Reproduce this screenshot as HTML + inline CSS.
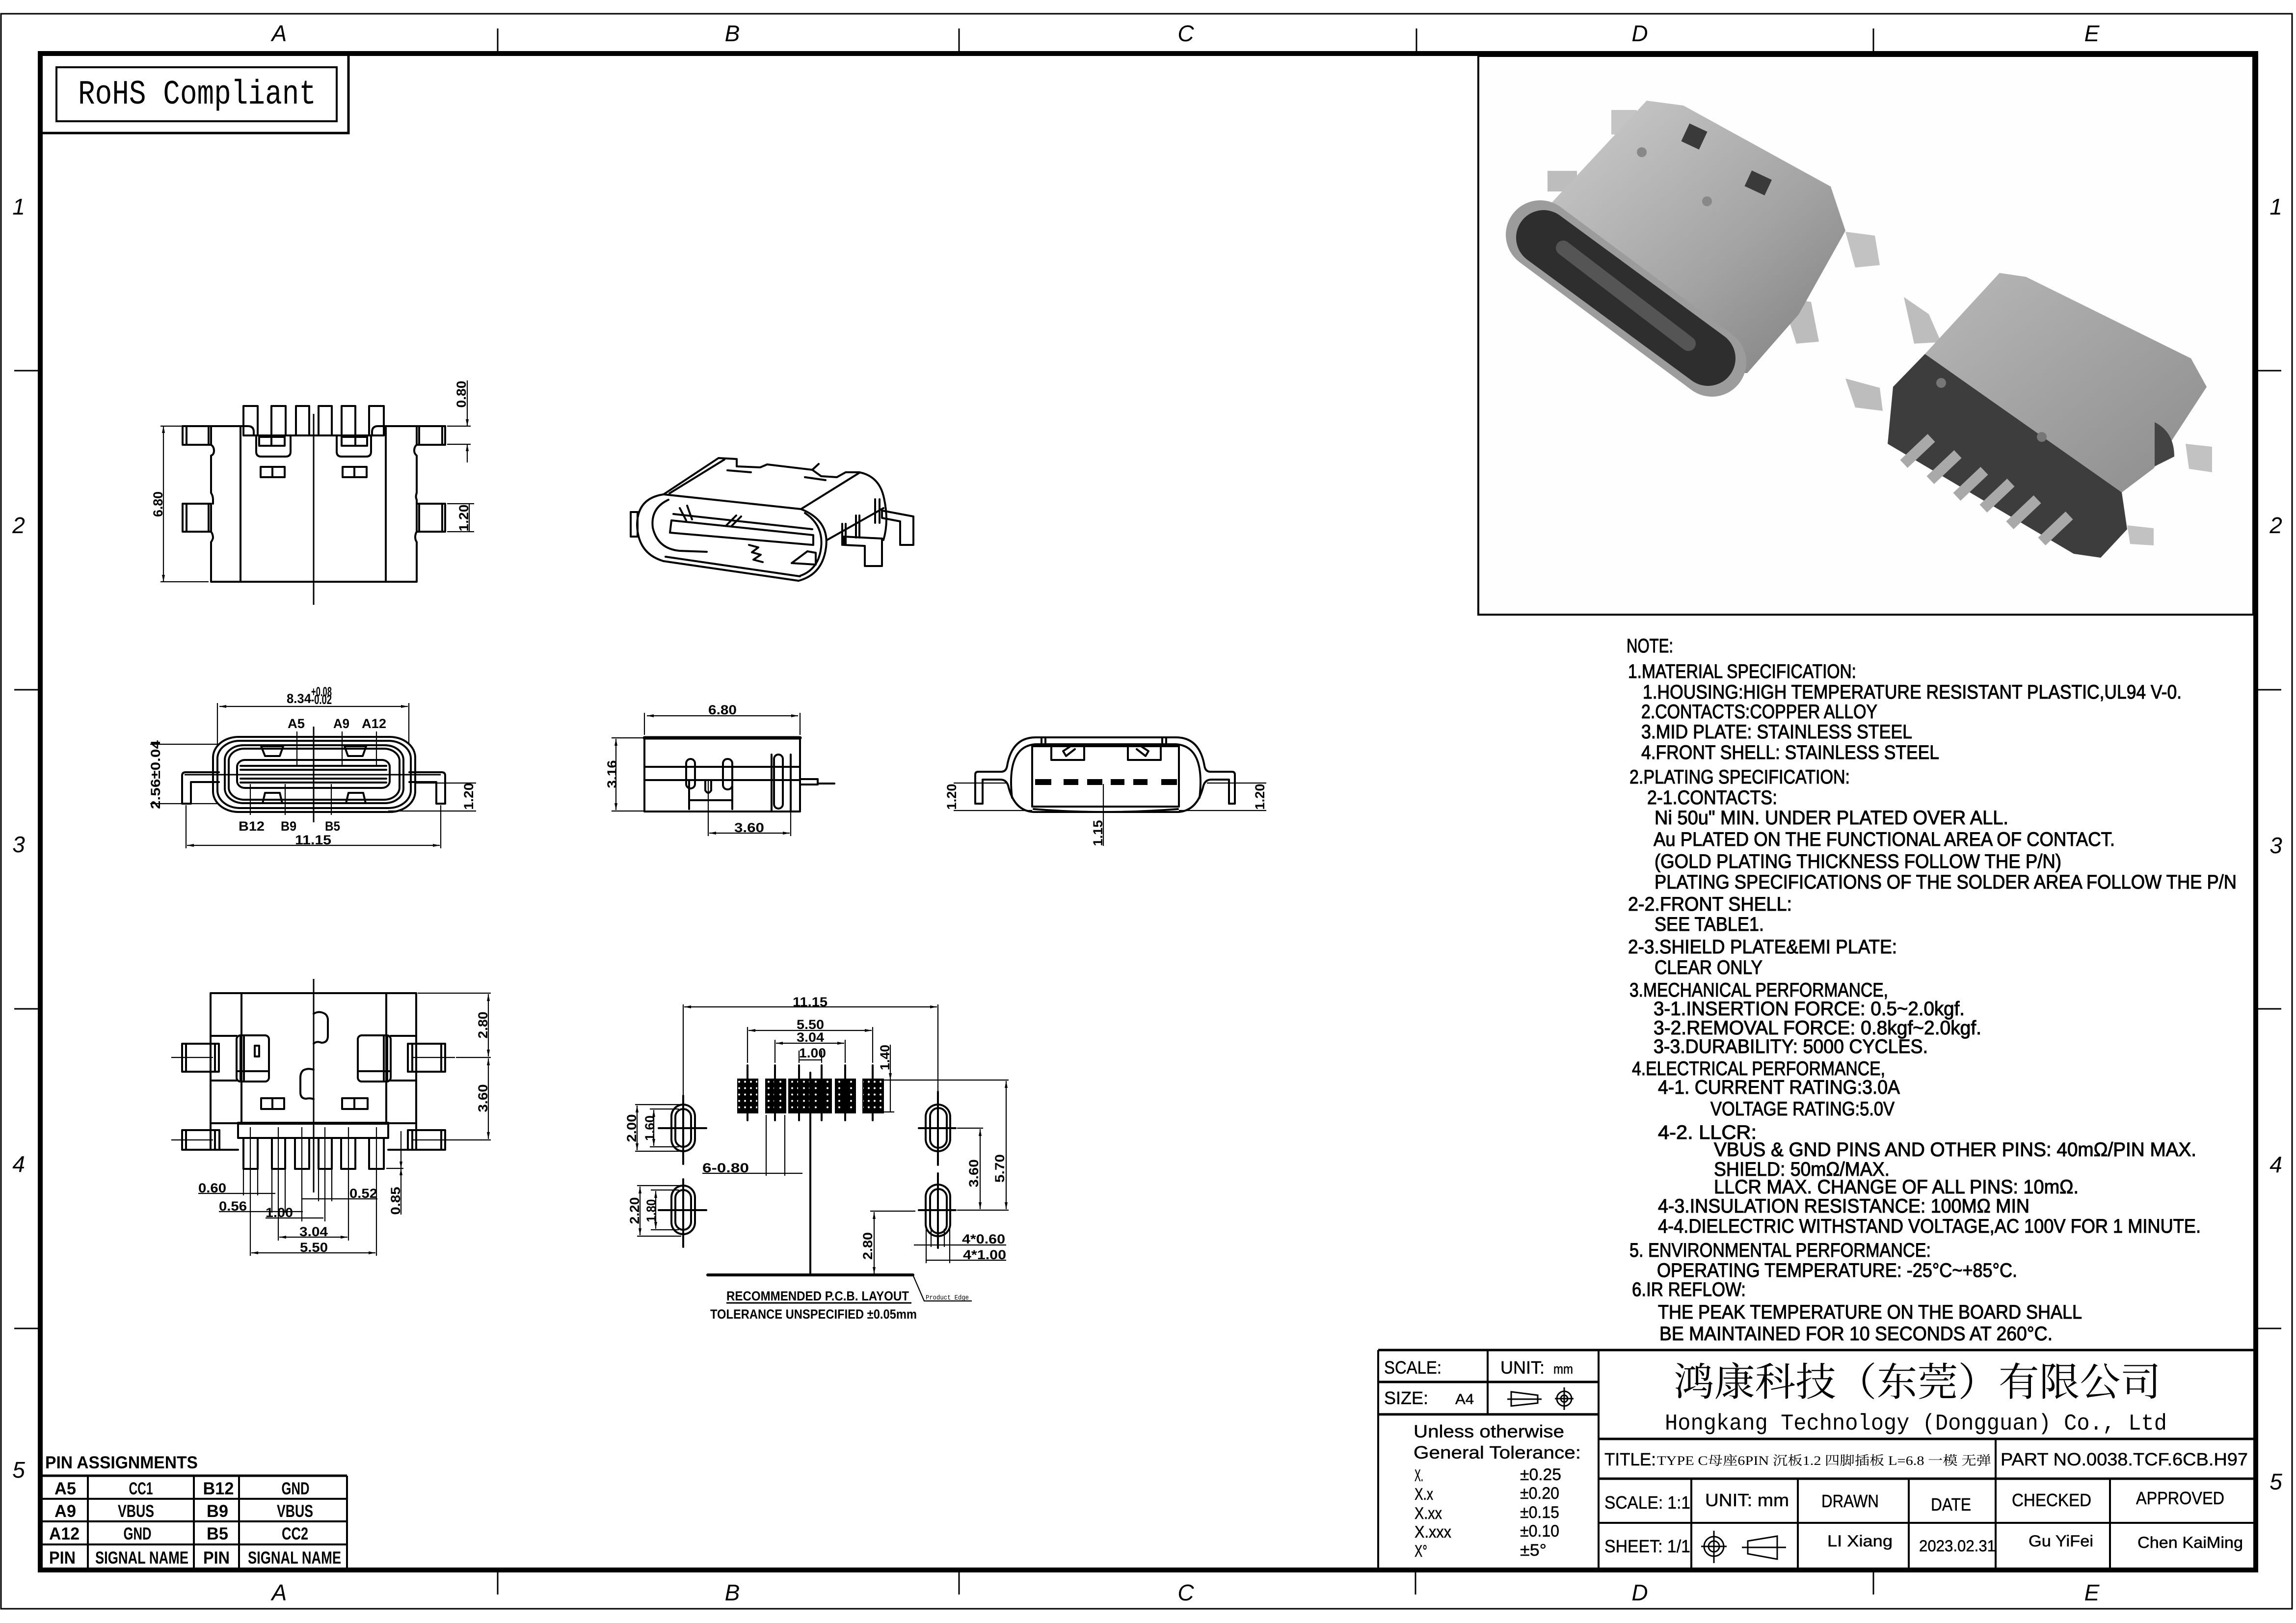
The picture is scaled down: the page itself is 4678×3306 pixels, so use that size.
<!DOCTYPE html>
<html><head><meta charset="utf-8">
<style>
html,body{margin:0;padding:0;background:#fff;}
svg{display:block;}
.l{fill:none;stroke:#000;stroke-width:4;stroke-linejoin:round;stroke-linecap:round}
.k{fill:none;stroke:#000;stroke-width:2.2}
.f{fill:none;stroke:#000;stroke-width:4}
.d{font-family:"Liberation Sans",sans-serif;font-weight:bold;font-size:27px;fill:#000}
.n{font-family:"Liberation Sans",sans-serif;font-size:40px;fill:#000;stroke:#000;stroke-width:1.1}
.tb{font-family:"Liberation Sans",sans-serif;font-size:36px;fill:#000;stroke:#000;stroke-width:0.5}
.pt{font-family:"Liberation Sans",sans-serif;font-weight:bold;font-size:35px;fill:#000}
.lt{font-family:"Liberation Sans",sans-serif;font-style:italic;font-size:46px;fill:#000}
</style></head><body>
<svg width="4678" height="3306" viewBox="0 0 4678 3306" xmlns="http://www.w3.org/2000/svg">
<defs>
<marker id="a" viewBox="0 0 14 6" refX="14" refY="3" markerWidth="14" markerHeight="6" markerUnits="userSpaceOnUse" orient="auto-start-reverse"><path d="M0,0 L14,3 L0,6 z" fill="#000"/></marker>
<pattern id="dots" width="12" height="13" patternUnits="userSpaceOnUse"><rect width="12" height="13" fill="#000"/><circle cx="6" cy="6.5" r="2" fill="#fff"/></pattern>
<linearGradient id="m1" x1="0" y1="0" x2="1" y2="1"><stop offset="0" stop-color="#cfcfcf"/><stop offset="0.6" stop-color="#a3a3a3"/><stop offset="1" stop-color="#7e7e7e"/></linearGradient>
<linearGradient id="m2" x1="0" y1="0" x2="1" y2="1"><stop offset="0" stop-color="#b8b8b8"/><stop offset="1" stop-color="#8c8c8c"/></linearGradient>
</defs>
<rect width="4678" height="3306" fill="#fff"/>

<!-- frames -->
<rect x="2" y="28" width="4668" height="3249" fill="none" stroke="#000" stroke-width="3"/>
<rect x="82" y="109" width="4514" height="3089" fill="none" stroke="#000" stroke-width="10"/>
<g stroke="#000" stroke-width="3">
<line x1="1014" y1="58" x2="1014" y2="104"/><line x1="1954" y1="58" x2="1954" y2="104"/><line x1="2886" y1="58" x2="2886" y2="104"/><line x1="3817" y1="58" x2="3817" y2="104"/>
<line x1="1014" y1="3203" x2="1014" y2="3248"/><line x1="1954" y1="3203" x2="1954" y2="3248"/><line x1="2884" y1="3203" x2="2884" y2="3248"/><line x1="3817" y1="3203" x2="3817" y2="3248"/>
<line x1="29" y1="755" x2="77" y2="755"/><line x1="29" y1="1405" x2="77" y2="1405"/><line x1="29" y1="2055" x2="77" y2="2055"/><line x1="29" y1="2706" x2="77" y2="2706"/>
<line x1="4601" y1="755" x2="4648" y2="755"/><line x1="4601" y1="1405" x2="4648" y2="1405"/><line x1="4601" y1="2055" x2="4648" y2="2055"/><line x1="4601" y1="2706" x2="4648" y2="2706"/>
</g>
<g class="lt" text-anchor="middle">
<text x="569" y="84">A</text><text x="1492" y="84">B</text><text x="2416" y="84">C</text><text x="3341" y="84">D</text><text x="4262" y="84">E</text>
<text x="569" y="3260">A</text><text x="1492" y="3260">B</text><text x="2416" y="3260">C</text><text x="3341" y="3260">D</text><text x="4262" y="3260">E</text>
<text x="38" y="437">1</text><text x="38" y="1086">2</text><text x="38" y="1736">3</text><text x="38" y="2387">4</text><text x="38" y="3010">5</text>
<text x="4637" y="437">1</text><text x="4637" y="1086">2</text><text x="4637" y="1738">3</text><text x="4637" y="2388">4</text><text x="4637" y="3034">5</text>
</g>

<!-- RoHS -->
<path d="M82,271 H710 V109" fill="none" stroke="#000" stroke-width="5"/>
<rect x="115" y="137" width="571" height="110" fill="none" stroke="#000" stroke-width="4"/>
<text x="159" y="211" font-family="'Liberation Mono',monospace" font-size="70" textLength="485" lengthAdjust="spacingAndGlyphs">RoHS Compliant</text>

<!-- ===== Drawing 1: top view ===== -->
<g class="l">
<path d="M372,868 H505 Q517,868 517,880 V887 H758 V880 Q758,868 770,868 H907"/>
<rect x="496" y="827" width="29" height="60"/><rect x="553" y="827" width="29" height="60"/><rect x="603" y="827" width="27" height="60"/>
<rect x="649" y="827" width="27" height="60"/><rect x="696" y="827" width="28" height="60"/><rect x="752" y="827" width="30" height="60"/>
<rect x="372" y="868" width="58" height="38"/><line x1="380" y1="868" x2="380" y2="906"/><line x1="425" y1="868" x2="425" y2="906"/>
<rect x="372" y="1026" width="58" height="57"/><line x1="380" y1="1026" x2="380" y2="1083"/><line x1="425" y1="1026" x2="425" y2="1083"/>
<rect x="849" y="868" width="58" height="38"/><line x1="901" y1="868" x2="901" y2="906"/><line x1="854" y1="868" x2="854" y2="906"/>
<rect x="849" y="1026" width="58" height="57"/><line x1="901" y1="1026" x2="901" y2="1083"/><line x1="854" y1="1026" x2="854" y2="1083"/>
<path d="M430,906 Q436,910 436,918 Q436,926 430,928 V1004 Q434,1010 434,1018 V1026 M430,1083 Q434,1088 434,1096 Q432,1102 430,1104 V1185 H849 V1104 Q846,1100 846,1094 Q846,1088 849,1083 M849,1026 V1018 Q846,1012 849,1004 V928 Q844,924 844,918 Q844,910 849,906"/>
<line x1="490" y1="868" x2="490" y2="1185"/><line x1="786" y1="868" x2="786" y2="1185"/>
<path d="M522,887 V920 Q522,930 532,930 H582 Q592,930 592,920 V887"/>
<rect x="528" y="890" width="52" height="18"/><line x1="553" y1="890" x2="553" y2="908"/>
<path d="M686,887 V920 Q686,930 696,930 H746 Q756,930 756,920 V887"/>
<rect x="696" y="890" width="52" height="18"/><line x1="724" y1="890" x2="724" y2="908"/>
<rect x="531" y="951" width="49" height="21"/><line x1="555" y1="951" x2="555" y2="972"/>
<rect x="698" y="951" width="49" height="21"/><line x1="722" y1="951" x2="722" y2="972"/>
</g>
<line x1="639" y1="843" x2="639" y2="1232" stroke="#000" stroke-width="3"/>
<g class="k">
<line x1="327" y1="868" x2="370" y2="868"/><line x1="327" y1="1185" x2="425" y2="1185"/>
<line x1="333" y1="868" x2="333" y2="1185" marker-start="url(#a)" marker-end="url(#a)"/>
<line x1="911" y1="868" x2="959" y2="868"/><line x1="911" y1="905" x2="959" y2="905"/>
<line x1="952" y1="775" x2="952" y2="868" marker-end="url(#a)"/><line x1="952" y1="942" x2="952" y2="905" marker-end="url(#a)"/>
<line x1="911" y1="1026" x2="966" y2="1026"/><line x1="911" y1="1083" x2="966" y2="1083"/>
<line x1="956" y1="1026" x2="956" y2="1083"/>
</g>
<text class="d" transform="translate(331,1027) rotate(-90)" text-anchor="middle" textLength="52" lengthAdjust="spacingAndGlyphs">6.80</text>
<text class="d" transform="translate(949,803) rotate(-90)" text-anchor="middle" textLength="55" lengthAdjust="spacingAndGlyphs">0.80</text>
<text class="d" transform="translate(954,1055) rotate(-90)" text-anchor="middle" textLength="55" lengthAdjust="spacingAndGlyphs">1.20</text>

<!-- ===== Drawing 2: isometric ===== -->
<g class="l">
<path d="M1352,1007 L1464,933 L1501,935 L1501,950 L1549,952 L1563,946 L1655,957 L1673,970 L1705,972 L1723,962 L1751,962 Q1790,970 1800,1010 Q1812,1060 1800,1100"/>
<path d="M1364,1005 L1476,936"/>
<path d="M1352,1007 L1632,1037 L1751,963"/>
<path d="M1632,1037 Q1690,1060 1683,1115 Q1676,1170 1627,1183"/>
<path d="M1640,1045 Q1678,1070 1673,1115 Q1668,1160 1630,1173"/>
<path d="M1352,1143 L1627,1183"/><path d="M1356,1134 L1630,1174"/>
<path d="M1352,1007 Q1298,1015 1298,1070 Q1300,1128 1352,1143"/>
<path d="M1362,1018 Q1325,1035 1330,1075 Q1340,1118 1385,1122 L1440,1124"/>
<path d="M1368,1060 L1657,1090 L1657,1110 L1365,1085 Z"/>
<path d="M1372,1047 L1655,1078"/>
<path d="M1685,1100 L1800,1035"/>
<path d="M1797,1040 L1861,1052 L1861,1110 L1834,1110 L1834,1062 L1797,1055 Z"/>
<path d="M1783,1017 V1065 M1792,1017 V1065"/>
<path d="M1719,1093 L1797,1097 L1797,1153 L1762,1153 L1762,1112 L1719,1110 Z"/>
<path d="M1744,1050 V1095 M1751,1050 V1095 M1716,1067 V1110 M1723,1067 V1110"/>
<rect x="1285" y="1043" width="14" height="50"/>
<path d="M1526,1110 L1545,1115 L1532,1125 L1550,1130 L1535,1140 L1554,1145"/>
<path d="M1613,1147 L1645,1123 L1662,1126 L1662,1150 Z"/>
<path d="M1482,958 L1530,962 M1640,972 L1682,978 M1655,957 L1668,945"/>
<path d="M1385,1035 L1398,1060 M1400,1030 L1410,1058 M1480,1070 L1500,1050 M1490,1072 L1510,1052"/>
</g>

<!-- ===== Drawing 3: front view ===== -->
<g class="l">
<rect x="434" y="1501" width="412" height="153" rx="52" ry="42"/>
<rect x="443" y="1509" width="394" height="137" rx="46" ry="36"/>
<rect x="458" y="1518" width="364" height="118" rx="38" ry="30"/>
<rect x="466" y="1525" width="348" height="104" rx="32" ry="25"/>
<rect x="483" y="1548" width="311" height="57" rx="16" ry="14"/>
<path d="M490,1560 H787 M490,1568 H787 M490,1586 H787 M490,1594 H787"/>
<path d="M446,1573 H378 Q371,1573 371,1580 V1637 H389 V1593 H446"/>
<path d="M834,1573 H900 Q907,1573 907,1580 V1637 H889 V1593 H834"/>
<path d="M532,1520 L577,1520 L570,1540 L540,1540 Z"/><path d="M702,1520 L746,1520 L739,1540 L709,1540 Z"/>
<path d="M535,1636 L540,1615 L570,1615 L575,1636"/><path d="M705,1636 L710,1615 L740,1615 L745,1636"/>
</g>
<line x1="376" y1="1578" x2="898" y2="1578" stroke="#000" stroke-width="3"/>
<line x1="639" y1="1480" x2="639" y2="1675" stroke="#000" stroke-width="3"/>
<g class="k">
<line x1="605" y1="1490" x2="605" y2="1560"/><line x1="697" y1="1490" x2="697" y2="1560"/><line x1="767" y1="1490" x2="767" y2="1560"/>
<line x1="510" y1="1597" x2="510" y2="1660"/><line x1="581" y1="1597" x2="581" y2="1660"/><line x1="675" y1="1597" x2="675" y2="1660"/>
<line x1="443" y1="1432" x2="443" y2="1517"/><line x1="833" y1="1432" x2="833" y2="1517"/>
<line x1="447" y1="1439" x2="831" y2="1439" marker-start="url(#a)" marker-end="url(#a)"/>
<line x1="306" y1="1516" x2="447" y2="1516"/><line x1="306" y1="1637" x2="443" y2="1637"/>
<line x1="846" y1="1595" x2="970" y2="1595"/><line x1="791" y1="1652" x2="970" y2="1652"/>
<line x1="379" y1="1640" x2="379" y2="1728"/><line x1="898" y1="1640" x2="898" y2="1728"/>
<line x1="381" y1="1722" x2="896" y2="1722" marker-start="url(#a)" marker-end="url(#a)"/>
</g>
<text class="d" x="584" y="1432" textLength="50" lengthAdjust="spacingAndGlyphs">8.34</text>
<text class="d" x="634" y="1418" font-size="17" textLength="42" lengthAdjust="spacingAndGlyphs">+0.08</text>
<text class="d" x="634" y="1434" font-size="17" textLength="42" lengthAdjust="spacingAndGlyphs">-0.02</text>
<text class="d" x="586" y="1483" textLength="35" lengthAdjust="spacingAndGlyphs">A5</text>
<text class="d" x="679" y="1483" textLength="33" lengthAdjust="spacingAndGlyphs">A9</text>
<text class="d" x="737" y="1483" textLength="50" lengthAdjust="spacingAndGlyphs">A12</text>
<text class="d" x="486" y="1692" textLength="53" lengthAdjust="spacingAndGlyphs">B12</text>
<text class="d" x="572" y="1692" textLength="32" lengthAdjust="spacingAndGlyphs">B9</text>
<text class="d" x="662" y="1692" textLength="31" lengthAdjust="spacingAndGlyphs">B5</text>
<text class="d" x="601" y="1720" textLength="74" lengthAdjust="spacingAndGlyphs">11.15</text>
<text class="d" transform="translate(326,1578) rotate(-90)" text-anchor="middle" textLength="140" lengthAdjust="spacingAndGlyphs">2.56±0.04</text>
<text class="d" transform="translate(964,1622) rotate(-90)" text-anchor="middle" textLength="55" lengthAdjust="spacingAndGlyphs">1.20</text>

<!-- ===== Drawing 4: side view ===== -->
<g class="l">
<rect x="1313" y="1503" width="317" height="150"/>
<line x1="1313" y1="1503" x2="1630" y2="1503" stroke-width="7"/>
<path d="M1313,1562 H1630 M1313,1589 H1630"/>
<rect x="1398" y="1546" width="18" height="60" rx="9"/>
<rect x="1473" y="1546" width="19" height="62" rx="9"/>
<rect x="1577" y="1537" width="18" height="110" rx="9"/>
<path d="M1404,1590 V1648 M1492,1590 V1648 M1404,1630 H1492"/>
<path d="M1437,1590 V1610 Q1443,1620 1449,1610 V1590"/>
<path d="M1572,1537 V1653 M1611,1537 V1653"/>
<path d="M1630,1587 H1666 V1598 H1630 M1666,1596 H1700"/>
</g>
<line x1="1443" y1="1590" x2="1443" y2="1703" class="k"/>
<g class="k">
<line x1="1313" y1="1452" x2="1313" y2="1497"/><line x1="1630" y1="1452" x2="1630" y2="1497"/>
<line x1="1318" y1="1458" x2="1626" y2="1458" marker-start="url(#a)" marker-end="url(#a)"/>
<line x1="1246" y1="1503" x2="1313" y2="1503"/><line x1="1246" y1="1652" x2="1313" y2="1652"/>
<line x1="1255" y1="1505" x2="1255" y2="1650" marker-start="url(#a)" marker-end="url(#a)"/>
<line x1="1611" y1="1647" x2="1611" y2="1703"/>
<line x1="1445" y1="1697" x2="1609" y2="1697" marker-start="url(#a)" marker-end="url(#a)"/>
</g>
<text class="d" x="1443" y="1455" textLength="58" lengthAdjust="spacingAndGlyphs">6.80</text>
<text class="d" transform="translate(1256,1577) rotate(-90)" text-anchor="middle" textLength="57" lengthAdjust="spacingAndGlyphs">3.16</text>
<text class="d" x="1496" y="1695" textLength="61" lengthAdjust="spacingAndGlyphs">3.60</text>

<!-- ===== Drawing 5: rear view ===== -->
<g class="l">
<path d="M1987,1637 V1578 Q1987,1572 1993,1572 H2040 Q2050,1572 2052,1560 Q2062,1502 2110,1502 H2396 Q2444,1502 2454,1560 Q2456,1572 2466,1572 H2510 Q2516,1572 2516,1578 V1637 H2504 V1588 H2468 Q2456,1588 2452,1600 Q2440,1652 2400,1654 H2106 Q2066,1652 2054,1600 Q2050,1588 2038,1588 H2002 V1637 Z"/>
<path d="M2062,1625 Q2050,1520 2110,1516 H2396 Q2456,1520 2444,1625"/>
<rect x="2103" y="1520" width="299" height="123"/>
<path d="M2106,1648 Q2250,1660 2400,1648"/>
<rect x="2142" y="1517" width="67" height="31"/><rect x="2298" y="1517" width="67" height="31"/>
<path d="M2186,1517 L2166,1530 L2172,1540 L2190,1526"/><path d="M2320,1517 L2340,1530 L2334,1540 L2316,1526"/>
<path d="M2122,1505 V1516 M2130,1505 V1516 M2368,1505 V1516 M2376,1505 V1516"/>
</g>
<g fill="#000">
<rect x="2109" y="1587" width="33" height="12"/><rect x="2167" y="1587" width="30" height="12"/><rect x="2215" y="1587" width="31" height="12"/>
<rect x="2263" y="1587" width="28" height="12"/><rect x="2309" y="1587" width="29" height="12"/><rect x="2366" y="1587" width="32" height="12"/>
</g>
<g class="k">
<line x1="1943" y1="1595" x2="2050" y2="1595"/><line x1="1943" y1="1651" x2="2103" y2="1651"/>
<line x1="2459" y1="1595" x2="2580" y2="1595"/><line x1="2402" y1="1651" x2="2580" y2="1651"/>
<line x1="2248" y1="1597" x2="2248" y2="1723"/>
</g>
<text class="d" transform="translate(1948,1623) rotate(-90)" text-anchor="middle" textLength="53" lengthAdjust="spacingAndGlyphs">1.20</text>
<text class="d" transform="translate(2576,1623) rotate(-90)" text-anchor="middle" textLength="53" lengthAdjust="spacingAndGlyphs">1.20</text>
<text class="d" transform="translate(2246,1697) rotate(-90)" text-anchor="middle" textLength="53" lengthAdjust="spacingAndGlyphs">1.15</text>

<!-- ===== Drawing 6: bottom view ===== -->
<g class="l">
<rect x="429" y="2023" width="419" height="265"/>
<line x1="492" y1="2023" x2="492" y2="2288"/><line x1="787" y1="2023" x2="787" y2="2288"/>
<path d="M429,2110 H482 M429,2201 H482 M796,2110 H848 M796,2201 H848"/>
<rect x="371" y="2126" width="75" height="57"/><path d="M379,2126 V2183 M438,2126 V2183"/>
<rect x="831" y="2126" width="76" height="57"/><path d="M899,2126 V2183 M840,2126 V2183"/>
<rect x="371" y="2302" width="76" height="40"/><path d="M379,2302 V2342 M438,2302 V2342"/>
<rect x="831" y="2302" width="76" height="40"/><path d="M899,2302 V2342 M840,2302 V2342"/>
<path d="M429,2288 V2342 H485 M848,2288 V2342 H791"/>
<rect x="482" y="2109" width="66" height="94" rx="8"/>
<rect x="729" y="2109" width="67" height="94" rx="8"/>
<path d="M490,2112 V2200 M497,2112 V2200 M482,2182 H548 M519,2130 H528 V2152 H519 Z"/>
<path d="M789,2112 V2200 M782,2112 V2200 M729,2182 H796"/>
<path d="M639,2065 Q650,2058 662,2065 Q669,2070 668,2082 V2110 Q668,2124 655,2124 Q645,2120 639,2126"/>
<path d="M639,2179 Q628,2175 618,2180 Q612,2185 612,2195 V2225 Q612,2238 624,2238 Q632,2236 639,2239"/>
<rect x="532" y="2237" width="47" height="22"/><line x1="555" y1="2237" x2="555" y2="2259"/>
<rect x="697" y="2237" width="52" height="22"/><line x1="722" y1="2237" x2="722" y2="2259"/>
<rect x="485" y="2288" width="306" height="30"/>
<line x1="485" y1="2288" x2="791" y2="2288" stroke-width="6"/>
<rect x="496" y="2318" width="29" height="63"/><rect x="554" y="2318" width="27" height="63"/><rect x="601" y="2318" width="29" height="63"/>
<rect x="649" y="2318" width="27" height="63"/><rect x="695" y="2318" width="29" height="63"/><rect x="752" y="2318" width="30" height="63"/>
</g>
<line x1="639" y1="1994" x2="639" y2="2429" stroke="#000" stroke-width="3"/>
<g class="k">
<path d="M349,2154 H434 M842,2154 H927 M349,2322 H434 M842,2322 H927"/>
<path d="M510,2296 V2558 M567,2296 V2527 M615,2296 V2488 M662,2296 V2488 M710,2296 V2527 M767,2296 V2558"/>
<path d="M496,2381 V2435 M525,2381 V2435 M554,2381 V2470 M581,2381 V2470 M649,2381 V2447 M676,2381 V2447"/>
<line x1="851" y1="2023" x2="1000" y2="2023"/><line x1="929" y1="2154" x2="1000" y2="2154"/><line x1="927" y1="2322" x2="1000" y2="2322"/>
<line x1="995" y1="2025" x2="995" y2="2152" marker-start="url(#a)" marker-end="url(#a)"/>
<line x1="995" y1="2156" x2="995" y2="2320" marker-start="url(#a)" marker-end="url(#a)"/>
<line x1="787" y1="2380" x2="822" y2="2380"/>
<line x1="817" y1="2304" x2="817" y2="2380" marker-end="url(#a)"/><line x1="817" y1="2474" x2="817" y2="2380" marker-end="url(#a)"/>
<line x1="404" y1="2431" x2="561" y2="2431"/>
<line x1="446" y1="2468" x2="617" y2="2468"/>
<line x1="541" y1="2481" x2="659" y2="2481"/>
<line x1="615" y1="2442" x2="769" y2="2442"/>
<line x1="569" y1="2520" x2="708" y2="2520" marker-start="url(#a)" marker-end="url(#a)"/>
<line x1="512" y1="2552" x2="765" y2="2552" marker-start="url(#a)" marker-end="url(#a)"/>
</g>
<text class="d" transform="translate(993,2088) rotate(-90)" text-anchor="middle" textLength="55" lengthAdjust="spacingAndGlyphs">2.80</text>
<text class="d" transform="translate(993,2237) rotate(-90)" text-anchor="middle" textLength="57" lengthAdjust="spacingAndGlyphs">3.60</text>
<text class="d" transform="translate(815,2446) rotate(-90)" text-anchor="middle" textLength="57" lengthAdjust="spacingAndGlyphs">0.85</text>
<text class="d" x="404" y="2429" textLength="57" lengthAdjust="spacingAndGlyphs">0.60</text>
<text class="d" x="446" y="2466" textLength="57" lengthAdjust="spacingAndGlyphs">0.56</text>
<text class="d" x="541" y="2479" textLength="56" lengthAdjust="spacingAndGlyphs">1.00</text>
<text class="d" x="712" y="2440" textLength="57" lengthAdjust="spacingAndGlyphs">0.52</text>
<text class="d" x="610" y="2518" textLength="58" lengthAdjust="spacingAndGlyphs">3.04</text>
<text class="d" x="611" y="2550" textLength="57" lengthAdjust="spacingAndGlyphs">5.50</text>

<!-- ===== Drawing 7: PCB layout ===== -->
<g fill="url(#dots)" stroke="#000" stroke-width="2">
<rect x="1503" y="2198" width="41" height="69"/><rect x="1560" y="2198" width="41" height="69"/><rect x="1607" y="2198" width="44" height="69"/>
<rect x="1654" y="2198" width="40" height="69"/><rect x="1702" y="2198" width="41" height="69"/><rect x="1758" y="2198" width="42" height="69"/>
</g>
<g class="l">
<rect x="1368" y="2250" width="48" height="95" rx="24"/><rect x="1376" y="2259" width="32" height="77" rx="16"/>
<rect x="1368" y="2415" width="48" height="99" rx="24"/><rect x="1376" y="2424" width="32" height="81" rx="16"/>
<rect x="1886" y="2250" width="50" height="95" rx="25"/><rect x="1895" y="2257" width="34" height="81" rx="17"/>
<rect x="1886" y="2413" width="50" height="105" rx="25"/><rect x="1895" y="2422" width="34" height="90" rx="17"/>
<path d="M1342,2298 H1439 M1392,2232 V2371 M1342,2465 H1439 M1392,2402 V2540"/>
<path d="M1872,2298 H1947 M1911,2224 V2373 M1872,2465 H1947 M1911,2390 V2542"/>
<path d="M1523,2170 V2282 M1579,2170 V2282 M1628,2170 V2282 M1674,2170 V2282 M1722,2170 V2282 M1778,2170 V2282"/>
<line x1="1651" y1="2185" x2="1651" y2="2597"/>
<line x1="1442" y1="2597" x2="1860" y2="2597" stroke-width="6"/>
</g>
<g class="k">
<line x1="1392" y1="2046" x2="1392" y2="2232"/><line x1="1911" y1="2046" x2="1911" y2="2224"/>
<line x1="1394" y1="2051" x2="1909" y2="2051" marker-start="url(#a)" marker-end="url(#a)"/>
<line x1="1523" y1="2092" x2="1523" y2="2165"/><line x1="1778" y1="2092" x2="1778" y2="2165"/>
<line x1="1525" y1="2099" x2="1776" y2="2099" marker-start="url(#a)" marker-end="url(#a)"/>
<line x1="1579" y1="2118" x2="1579" y2="2165"/><line x1="1722" y1="2118" x2="1722" y2="2165"/>
<line x1="1581" y1="2125" x2="1720" y2="2125" marker-start="url(#a)" marker-end="url(#a)"/>
<line x1="1628" y1="2140" x2="1628" y2="2165"/><line x1="1674" y1="2140" x2="1674" y2="2165"/>
<line x1="1628" y1="2159" x2="1674" y2="2159"/>
<line x1="1801" y1="2200" x2="2055" y2="2200"/><line x1="1801" y1="2265" x2="1822" y2="2265"/>
<line x1="1814" y1="2128" x2="1814" y2="2200" marker-end="url(#a)"/><line x1="1814" y1="2265" x2="1814" y2="2200"/>
<line x1="1294" y1="2250" x2="1388" y2="2250"/><line x1="1294" y1="2345" x2="1388" y2="2345"/>
<line x1="1298" y1="2252" x2="1298" y2="2343" marker-start="url(#a)" marker-end="url(#a)"/>
<line x1="1324" y1="2259" x2="1383" y2="2259"/><line x1="1324" y1="2336" x2="1383" y2="2336"/>
<line x1="1332" y1="2261" x2="1332" y2="2334" marker-start="url(#a)" marker-end="url(#a)"/>
<line x1="1298" y1="2415" x2="1388" y2="2415"/><line x1="1298" y1="2518" x2="1388" y2="2518"/>
<line x1="1304" y1="2417" x2="1304" y2="2516" marker-start="url(#a)" marker-end="url(#a)"/>
<line x1="1326" y1="2424" x2="1383" y2="2424"/><line x1="1326" y1="2505" x2="1383" y2="2505"/>
<line x1="1336" y1="2426" x2="1336" y2="2503" marker-start="url(#a)" marker-end="url(#a)"/>
<line x1="1950" y1="2298" x2="2003" y2="2298"/><line x1="1950" y1="2465" x2="2055" y2="2465"/>
<line x1="1997" y1="2300" x2="1997" y2="2463" marker-start="url(#a)" marker-end="url(#a)"/>
<line x1="2050" y1="2202" x2="2050" y2="2463" marker-start="url(#a)" marker-end="url(#a)"/>
<line x1="1773" y1="2467" x2="1865" y2="2467"/>
<line x1="1781" y1="2469" x2="1781" y2="2595" marker-start="url(#a)" marker-end="url(#a)"/>
<line x1="1561" y1="2271" x2="1561" y2="2395"/><line x1="1599" y1="2271" x2="1599" y2="2395"/>
<line x1="1431" y1="2390" x2="1635" y2="2390"/>
<path d="M1887,2503 V2573 M1897,2503 V2540 M1924,2503 V2540 M1935,2503 V2573"/>
<line x1="1862" y1="2536" x2="2050" y2="2536"/>
<line x1="1887" y1="2567" x2="2050" y2="2567"/>
<path d="M1860,2597 L1883,2650 H1980"/>
<line x1="1480" y1="2654" x2="1857" y2="2654" stroke-width="3"/>
</g>
<text class="d" x="1615" y="2050" textLength="71" lengthAdjust="spacingAndGlyphs">11.15</text>
<text class="d" x="1623" y="2096" textLength="56" lengthAdjust="spacingAndGlyphs">5.50</text>
<text class="d" x="1623" y="2122" textLength="56" lengthAdjust="spacingAndGlyphs">3.04</text>
<text class="d" x="1628" y="2154" textLength="55" lengthAdjust="spacingAndGlyphs">1.00</text>
<text class="d" transform="translate(1812,2154) rotate(-90)" text-anchor="middle" textLength="52" lengthAdjust="spacingAndGlyphs">1.40</text>
<text class="d" transform="translate(1296,2298) rotate(-90)" text-anchor="middle" textLength="57" lengthAdjust="spacingAndGlyphs">2.00</text>
<text class="d" transform="translate(1333,2298) rotate(-90)" text-anchor="middle" textLength="52" lengthAdjust="spacingAndGlyphs">1.60</text>
<text class="d" transform="translate(1302,2466) rotate(-90)" text-anchor="middle" textLength="55" lengthAdjust="spacingAndGlyphs">2.20</text>
<text class="d" transform="translate(1336,2466) rotate(-90)" text-anchor="middle" textLength="47" lengthAdjust="spacingAndGlyphs">1.80</text>
<text class="d" transform="translate(1993,2390) rotate(-90)" text-anchor="middle" textLength="57" lengthAdjust="spacingAndGlyphs">3.60</text>
<text class="d" transform="translate(2046,2380) rotate(-90)" text-anchor="middle" textLength="58" lengthAdjust="spacingAndGlyphs">5.70</text>
<text class="d" transform="translate(1777,2538) rotate(-90)" text-anchor="middle" textLength="56" lengthAdjust="spacingAndGlyphs">2.80</text>
<text class="d" x="1431" y="2388" textLength="95" lengthAdjust="spacingAndGlyphs">6-0.80</text>
<text class="d" x="1960" y="2533" textLength="88" lengthAdjust="spacingAndGlyphs">4*0.60</text>
<text class="d" x="1962" y="2565" textLength="88" lengthAdjust="spacingAndGlyphs">4*1.00</text>
<text x="1886" y="2647" font-family="'Liberation Mono',monospace" font-size="14" textLength="88" lengthAdjust="spacingAndGlyphs">Product Edge</text>
<text class="d" x="1480" y="2649" textLength="372" lengthAdjust="spacingAndGlyphs">RECOMMENDED  P.C.B.  LAYOUT</text>
<text class="d" x="1447" y="2686" textLength="421" lengthAdjust="spacingAndGlyphs">TOLERANCE UNSPECIFIED ±0.05mm</text>

<!-- ===== Photo ===== -->
<rect x="3012" y="114" width="1579" height="1138" fill="#fefefe" stroke="#000" stroke-width="4"/>
<g>
<rect x="3283" y="224" width="52" height="50" fill="#c4c4c4"/>
<rect x="3153" y="348" width="60" height="42" fill="#bdbdbd"/>
<path d="M3760,472 L3820,480 L3830,540 L3780,545 Z" fill="#c2c2c2"/>
<path d="M3630,605 L3690,615 L3706,696 L3660,700 Z" fill="#bcbcbc"/>
<path d="M3125,452 L3355,205 L3430,215 L3730,380 L3760,470 L3665,640 L3560,760 L3500,760 Z" fill="url(#m1)"/>
<path d="M3138,478 L3488,738" stroke="#9c9c9c" stroke-width="140" stroke-linecap="round"/>
<path d="M3145,484 L3480,730" stroke="#2e2e2e" stroke-width="112" stroke-linecap="round"/>
<path d="M3185,505 L3440,700" stroke="#555" stroke-width="30" stroke-linecap="round"/>
<rect x="3432" y="258" width="40" height="40" fill="#3a3a3a" transform="rotate(25 3452 278)"/>
<rect x="3560" y="355" width="45" height="35" fill="#3a3a3a" transform="rotate(25 3582 372)"/>
<circle cx="3345" cy="310" r="10" fill="#888"/><circle cx="3478" cy="410" r="10" fill="#888"/>
<path d="M3760,771 L3830,790 L3836,837 L3780,830 Z" fill="#bdbdbd"/>
<path d="M3879,605 L3930,640 L3955,697 L3900,700 Z" fill="#bdbdbd"/>
<path d="M4453,904 L4507,910 L4507,962 L4460,955 Z" fill="#c2c2c2"/>
<path d="M4334,1070 L4388,1076 L4388,1111 L4340,1108 Z" fill="#c2c2c2"/>
<path d="M4074,556 L4128,564 L4464,730 L4496,788 L4388,954 L4323,1003 L3922,721 Z" fill="url(#m2)"/>
<path d="M3857,788 L3922,721 L4323,1003 L4334,1078 L4280,1136 L4225,1128 L3846,904 Z" fill="#3d3d3d"/>
<path d="M4390,860 Q4430,880 4430,930 L4390,950 Z" fill="#444"/>
<circle cx="3955" cy="780" r="10" fill="#777"/><circle cx="4160" cy="890" r="10" fill="#777"/>
<g stroke="#a9a9a9" stroke-width="22" stroke-linecap="butt">
<line x1="3879" y1="945" x2="3935" y2="892"/><line x1="3933" y1="978" x2="3989" y2="925"/><line x1="3987" y1="1012" x2="4043" y2="959"/>
<line x1="4041" y1="1036" x2="4097" y2="983"/><line x1="4095" y1="1070" x2="4151" y2="1017"/><line x1="4160" y1="1103" x2="4216" y2="1050"/>
</g>
</g>

<!-- ===== Notes ===== -->
<g class="n">
<text x="3314" y="1329" textLength="95" lengthAdjust="spacingAndGlyphs">NOTE:</text>
<text x="3317" y="1381" textLength="465" lengthAdjust="spacingAndGlyphs">1.MATERIAL  SPECIFICATION:</text>
<text x="3347" y="1423" textLength="1098" lengthAdjust="spacingAndGlyphs">1.HOUSING:HIGH  TEMPERATURE  RESISTANT  PLASTIC,UL94  V-0.</text>
<text x="3344" y="1463" textLength="481" lengthAdjust="spacingAndGlyphs">2.CONTACTS:COPPER  ALLOY</text>
<text x="3344" y="1504" textLength="552" lengthAdjust="spacingAndGlyphs">3.MID  PLATE:  STAINLESS  STEEL</text>
<text x="3344" y="1546" textLength="607" lengthAdjust="spacingAndGlyphs">4.FRONT  SHELL:  STAINLESS  STEEL</text>
<text x="3320" y="1596" textLength="449" lengthAdjust="spacingAndGlyphs">2.PLATING  SPECIFICATION:</text>
<text x="3356" y="1638" textLength="265" lengthAdjust="spacingAndGlyphs">2-1.CONTACTS:</text>
<text x="3371" y="1679" textLength="721" lengthAdjust="spacingAndGlyphs">Ni  50u"  MIN.  UNDER  PLATED  OVER  ALL.</text>
<text x="3369" y="1723" textLength="940" lengthAdjust="spacingAndGlyphs">Au  PLATED  ON  THE  FUNCTIONAL  AREA  OF  CONTACT.</text>
<text x="3371" y="1768" textLength="829" lengthAdjust="spacingAndGlyphs">(GOLD  PLATING  THICKNESS  FOLLOW  THE  P/N)</text>
<text x="3371" y="1810" textLength="1186" lengthAdjust="spacingAndGlyphs">PLATING  SPECIFICATIONS  OF  THE  SOLDER  AREA  FOLLOW  THE  P/N</text>
<text x="3317" y="1855" textLength="334" lengthAdjust="spacingAndGlyphs">2-2.FRONT  SHELL:</text>
<text x="3371" y="1896" textLength="223" lengthAdjust="spacingAndGlyphs">SEE  TABLE1.</text>
<text x="3317" y="1942" textLength="548" lengthAdjust="spacingAndGlyphs">2-3.SHIELD  PLATE&amp;EMI  PLATE:</text>
<text x="3371" y="1984" textLength="220" lengthAdjust="spacingAndGlyphs">CLEAR  ONLY</text>
<text x="3320" y="2030" textLength="527" lengthAdjust="spacingAndGlyphs">3.MECHANICAL  PERFORMANCE,</text>
<text x="3369" y="2068" textLength="634" lengthAdjust="spacingAndGlyphs">3-1.INSERTION  FORCE:  0.5~2.0kgf.</text>
<text x="3369" y="2107" textLength="668" lengthAdjust="spacingAndGlyphs">3-2.REMOVAL  FORCE:  0.8kgf~2.0kgf.</text>
<text x="3369" y="2145" textLength="559" lengthAdjust="spacingAndGlyphs">3-3.DURABILITY:  5000  CYCLES.</text>
<text x="3325" y="2190" textLength="516" lengthAdjust="spacingAndGlyphs">4.ELECTRICAL  PERFORMANCE,</text>
<text x="3378" y="2228" textLength="493" lengthAdjust="spacingAndGlyphs">4-1.  CURRENT  RATING:3.0A</text>
<text x="3485" y="2272" textLength="375" lengthAdjust="spacingAndGlyphs">VOLTAGE  RATING:5.0V</text>
<text x="3378" y="2320" textLength="201" lengthAdjust="spacingAndGlyphs">4-2.  LLCR:</text>
<text x="3492" y="2355" textLength="983" lengthAdjust="spacingAndGlyphs">VBUS  &amp;  GND  PINS  AND  OTHER  PINS:  40mΩ/PIN  MAX.</text>
<text x="3492" y="2395" textLength="358" lengthAdjust="spacingAndGlyphs">SHIELD:  50mΩ/MAX.</text>
<text x="3492" y="2431" textLength="743" lengthAdjust="spacingAndGlyphs">LLCR  MAX.  CHANGE  OF  ALL  PINS:  10mΩ.</text>
<text x="3378" y="2470" textLength="757" lengthAdjust="spacingAndGlyphs">4-3.INSULATION  RESISTANCE:  100MΩ    MIN</text>
<text x="3378" y="2511" textLength="1106" lengthAdjust="spacingAndGlyphs">4-4.DIELECTRIC  WITHSTAND  VOLTAGE,AC  100V  FOR  1  MINUTE.</text>
<text x="3320" y="2560" textLength="614" lengthAdjust="spacingAndGlyphs">5.  ENVIRONMENTAL  PERFORMANCE:</text>
<text x="3376" y="2601" textLength="734" lengthAdjust="spacingAndGlyphs">OPERATING  TEMPERATURE:  -25°C~+85°C.</text>
<text x="3325" y="2640" textLength="232" lengthAdjust="spacingAndGlyphs">6.IR  REFLOW:</text>
<text x="3378" y="2686" textLength="864" lengthAdjust="spacingAndGlyphs">THE  PEAK  TEMPERATURE  ON  THE  BOARD  SHALL</text>
<text x="3381" y="2730" textLength="801" lengthAdjust="spacingAndGlyphs">BE  MAINTAINED  FOR  10  SECONDS  AT  260°C.</text>
</g>

<!-- ===== Title block ===== -->
<g stroke="#000" stroke-width="4" fill="none">
<line x1="2808" y1="2750" x2="4596" y2="2750" stroke-width="5"/>
<line x1="2808" y1="2750" x2="2808" y2="3198"/>
<line x1="3031" y1="2750" x2="3031" y2="2881"/>
<line x1="3257" y1="2750" x2="3257" y2="3198"/>
<line x1="2808" y1="2815" x2="3257" y2="2815" stroke-width="5"/>
<line x1="2808" y1="2881" x2="3257" y2="2881" stroke-width="5"/>
<line x1="3257" y1="2931" x2="4596" y2="2931" stroke-width="5"/>
<line x1="3257" y1="3012" x2="4596" y2="3012" stroke-width="5"/>
<line x1="3257" y1="3102" x2="4596" y2="3102"/>
<line x1="4066" y1="2931" x2="4066" y2="3198"/>
<line x1="3446" y1="3012" x2="3446" y2="3198"/>
<line x1="3663" y1="3012" x2="3663" y2="3198"/>
<line x1="3889" y1="3012" x2="3889" y2="3198"/>
<line x1="4299" y1="3012" x2="4299" y2="3198"/>
<path d="M3079,2835 L3133,2842 L3133,2858 L3079,2864 Z" stroke-width="3"/>
<line x1="3071" y1="2850" x2="3141" y2="2850" stroke-width="3"/>
<circle cx="3187" cy="2849" r="15" stroke-width="3"/><circle cx="3187" cy="2849" r="7" stroke-width="3"/>
<line x1="3168" y1="2849" x2="3206" y2="2849" stroke-width="3"/><line x1="3187" y1="2826" x2="3187" y2="2872" stroke-width="3"/>
<circle cx="3492" cy="3150" r="20" stroke-width="3"/><circle cx="3492" cy="3150" r="11" stroke-width="3"/>
<line x1="3466" y1="3150" x2="3518" y2="3150" stroke-width="3"/><line x1="3492" y1="3118" x2="3492" y2="3184" stroke-width="3"/>
<path d="M3561,3139 L3621,3129 L3621,3176 L3561,3165 Z" stroke-width="3"/>
<line x1="3549" y1="3152" x2="3639" y2="3152" stroke-width="3"/>
</g>
<g class="tb">
<text x="2820" y="2798" textLength="117" lengthAdjust="spacingAndGlyphs">SCALE:</text>
<text x="3057" y="2798" textLength="90" lengthAdjust="spacingAndGlyphs">UNIT:</text>
<text x="3165" y="2798" font-size="28" textLength="40" lengthAdjust="spacingAndGlyphs">mm</text>
<text x="2820" y="2860" textLength="90" lengthAdjust="spacingAndGlyphs">SIZE:</text>
<text x="2965" y="2860" font-size="30" textLength="38" lengthAdjust="spacingAndGlyphs">A4</text>
<text x="2880" y="2928" textLength="307" lengthAdjust="spacingAndGlyphs">Unless  otherwise</text>
<text x="2880" y="2971" textLength="341" lengthAdjust="spacingAndGlyphs">General  Tolerance:</text>
<text x="2882" y="3017" font-size="34" textLength="18" lengthAdjust="spacingAndGlyphs">X.</text>
<text x="2882" y="3055" font-size="34" textLength="38" lengthAdjust="spacingAndGlyphs">X.x</text>
<text x="2882" y="3094" font-size="34" textLength="56" lengthAdjust="spacingAndGlyphs">X.xx</text>
<text x="2882" y="3132" font-size="34" textLength="75" lengthAdjust="spacingAndGlyphs">X.xxx</text>
<text x="2882" y="3171" font-size="34" textLength="26" lengthAdjust="spacingAndGlyphs">X°</text>
<text x="3097" y="3015" font-size="34" textLength="84" lengthAdjust="spacingAndGlyphs">±0.25</text>
<text x="3097" y="3053" font-size="34" textLength="80" lengthAdjust="spacingAndGlyphs">±0.20</text>
<text x="3097" y="3092" font-size="34" textLength="80" lengthAdjust="spacingAndGlyphs">±0.15</text>
<text x="3097" y="3130" font-size="34" textLength="80" lengthAdjust="spacingAndGlyphs">±0.10</text>
<text x="3097" y="3169" font-size="34" textLength="54" lengthAdjust="spacingAndGlyphs">±5°</text>
<text x="3269" y="2985" textLength="105" lengthAdjust="spacingAndGlyphs">TITLE:</text>
<text x="4076" y="2985" textLength="504" lengthAdjust="spacingAndGlyphs">PART  NO.0038.TCF.6CB.H97</text>
<text x="3269" y="3073" textLength="175" lengthAdjust="spacingAndGlyphs">SCALE: 1:1</text>
<text x="3474" y="3068" textLength="171" lengthAdjust="spacingAndGlyphs">UNIT: mm</text>
<text x="3711" y="3070" textLength="117" lengthAdjust="spacingAndGlyphs">DRAWN</text>
<text x="3934" y="3077" textLength="82" lengthAdjust="spacingAndGlyphs">DATE</text>
<text x="4099" y="3068" textLength="162" lengthAdjust="spacingAndGlyphs">CHECKED</text>
<text x="4352" y="3064" textLength="180" lengthAdjust="spacingAndGlyphs">APPROVED</text>
<text x="3269" y="3162" textLength="175" lengthAdjust="spacingAndGlyphs">SHEET: 1/1</text>
<text x="3723" y="3150" font-size="32" textLength="133" lengthAdjust="spacingAndGlyphs">LI  Xiang</text>
<text x="3910" y="3160" font-size="32" textLength="156" lengthAdjust="spacingAndGlyphs">2023.02.31</text>
<text x="4133" y="3150" font-size="32" textLength="132" lengthAdjust="spacingAndGlyphs">Gu  YiFei</text>
<text x="4355" y="3153" font-size="32" textLength="215" lengthAdjust="spacingAndGlyphs">Chen  KaiMing</text>
</g>
<text x="3410" y="2843" font-family="'Noto Serif CJK SC','Liberation Serif',serif" font-size="80" textLength="993" lengthAdjust="spacingAndGlyphs">鸿康科技（东莞）有限公司</text>
<text x="3392" y="2912" font-family="'Liberation Mono',monospace" font-size="46" textLength="1023" lengthAdjust="spacingAndGlyphs">Hongkang Technology (Dongguan) Co., Ltd</text>
<text x="3376" y="2984" font-family="'Liberation Serif','Noto Serif CJK SC',serif" font-size="26" textLength="681" lengthAdjust="spacingAndGlyphs">TYPE C母座6PIN 沉板1.2 四脚插板 L=6.8 一模 无弹</text>

<!-- ===== Pin assignments ===== -->
<text class="pt" x="92" y="2991" textLength="311" lengthAdjust="spacingAndGlyphs">PIN  ASSIGNMENTS</text>
<g stroke="#000" stroke-width="4" fill="none">
<line x1="82" y1="3006" x2="707" y2="3006" stroke-width="5"/>
<line x1="707" y1="3006" x2="707" y2="3198"/>
<line x1="82" y1="3053" x2="707" y2="3053"/>
<line x1="82" y1="3099" x2="707" y2="3099"/>
<line x1="82" y1="3146" x2="707" y2="3146"/>
<line x1="179" y1="3006" x2="179" y2="3198"/>
<line x1="395" y1="3006" x2="395" y2="3198"/>
<line x1="487" y1="3006" x2="487" y2="3198"/>
</g>
<g class="pt" text-anchor="middle">
<text x="133" y="3044" textLength="44" lengthAdjust="spacingAndGlyphs">A5</text>
<text x="287" y="3044" textLength="49" lengthAdjust="spacingAndGlyphs">CC1</text>
<text x="445" y="3044" textLength="63" lengthAdjust="spacingAndGlyphs">B12</text>
<text x="602" y="3044" textLength="57" lengthAdjust="spacingAndGlyphs">GND</text>
<text x="133" y="3090" textLength="44" lengthAdjust="spacingAndGlyphs">A9</text>
<text x="277" y="3090" textLength="74" lengthAdjust="spacingAndGlyphs">VBUS</text>
<text x="443" y="3090" textLength="44" lengthAdjust="spacingAndGlyphs">B9</text>
<text x="601" y="3090" textLength="74" lengthAdjust="spacingAndGlyphs">VBUS</text>
<text x="131" y="3136" textLength="62" lengthAdjust="spacingAndGlyphs">A12</text>
<text x="280" y="3136" textLength="57" lengthAdjust="spacingAndGlyphs">GND</text>
<text x="443" y="3136" textLength="44" lengthAdjust="spacingAndGlyphs">B5</text>
<text x="601" y="3136" textLength="54" lengthAdjust="spacingAndGlyphs">CC2</text>
<text x="127" y="3185" textLength="54" lengthAdjust="spacingAndGlyphs">PIN</text>
<text x="289" y="3185" textLength="190" lengthAdjust="spacingAndGlyphs">SIGNAL  NAME</text>
<text x="441" y="3185" textLength="54" lengthAdjust="spacingAndGlyphs">PIN</text>
<text x="600" y="3185" textLength="190" lengthAdjust="spacingAndGlyphs">SIGNAL  NAME</text>
</g>
</svg>
</body></html>
